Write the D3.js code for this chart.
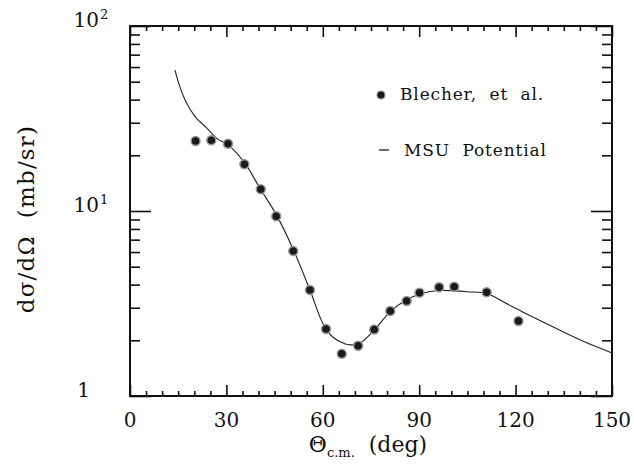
<!DOCTYPE html>
<meta charset="utf-8">
<title>Cross section</title>
<style>
  body { margin: 0; background: #fff; }
  text { font-family: "DejaVu Serif", "Liberation Serif", serif; fill: #111; }
</style>
<body>
<script src="https://cdn.jsdelivr.net/npm/d3@7"></script>
<script>

var width = 634,
    height = 468;

// Blecher, et al. data points (theta c.m. in deg, dsigma/dOmega in mb/sr)
var dataAngles = [20.4, 25.3, 30.5, 35.6, 40.7, 45.5, 50.8, 56.0, 61.0, 65.9,
                  71.0, 76.0, 81.0, 86.1, 90.1, 96.2, 100.9, 111.0, 120.9];
var dataValues = [23.9, 24.1, 23.1, 17.9, 13.1, 9.36, 6.08, 3.74, 2.30, 1.69,
                  1.87, 2.29, 2.88, 3.26, 3.62, 3.87, 3.90, 3.64, 2.54];

// MSU potential curve
var curveAngles = [14, 15.5, 17, 18.7, 20.7, 24, 27, 30.6, 35.8, 40.4, 45.6, 50.8,
                   56, 60, 63, 67, 69, 71, 76, 81, 86, 91, 96, 101, 105, 111,
                   117, 123, 130, 136, 142, 150];
var curveValues = [57.8, 47, 40.3, 35.5, 31.7, 28, 24.7, 22.7, 18.1, 13.3, 9.5, 6.2,
                   3.74, 2.47, 2.09, 1.91, 1.89, 1.9, 2.27, 2.86, 3.3, 3.59, 3.72, 3.7, 3.66, 3.58,
                   3.17, 2.8, 2.44, 2.17, 1.945, 1.71];

var xTicks = [0, 30, 60, 90, 120, 150];
var yTicks = [1, 10, 100];
var yTickBase = ["1", "10", "10"];
var yTickExp = ["", "1", "2"];

var legendLabels = ["Blecher,  et  al.", "MSU  Potential"];

var x = d3.scaleLinear().domain([0, 150]).range([130, 612]);
var y = d3.scaleLog().domain([1, 100]).range([396, 26]);

var svg = d3.select("body").append("svg")
  .attr("width", width)
  .attr("height", height);

// minor ticks
var xMinor = d3.range(5, 150, 5).filter(function (d) { return d % 30 !== 0; });
var yMinor = [];
[1, 10].forEach(function (dec) {
  for (var k = 2; k <= 9; k++) yMinor.push(dec * k);
});

function tickAxis(axis, g) {
  g.call(axis);
  g.select(".domain").remove();
  g.selectAll("line").attr("stroke", "#111").attr("stroke-width", 1.6);
  g.selectAll("text").remove();
}

// bottom (ticks inward = up)
tickAxis(d3.axisTop(x).tickValues(xTicks).tickSize(11), svg.append("g").attr("transform", "translate(0,396)"));
tickAxis(d3.axisTop(x).tickValues(xMinor).tickSize(5), svg.append("g").attr("transform", "translate(0,396)"));
// top (ticks inward = down)
tickAxis(d3.axisBottom(x).tickValues(xTicks).tickSize(11), svg.append("g").attr("transform", "translate(0,26)"));
tickAxis(d3.axisBottom(x).tickValues(xMinor).tickSize(5), svg.append("g").attr("transform", "translate(0,26)"));
// left (ticks inward = right)
tickAxis(d3.axisRight(y).tickValues(yTicks).tickSize(21), svg.append("g").attr("transform", "translate(130,0)"));
tickAxis(d3.axisRight(y).tickValues(yMinor).tickSize(10), svg.append("g").attr("transform", "translate(130,0)"));
// right (ticks inward = left)
tickAxis(d3.axisLeft(y).tickValues(yTicks).tickSize(21), svg.append("g").attr("transform", "translate(612,0)"));
tickAxis(d3.axisLeft(y).tickValues(yMinor).tickSize(10), svg.append("g").attr("transform", "translate(612,0)"));

// frame
svg.append("rect")
  .attr("x", x(0)).attr("y", y(100))
  .attr("width", x(150) - x(0)).attr("height", y(1) - y(100))
  .attr("fill", "none")
  .attr("stroke", "#111")
  .attr("stroke-width", 2);

// x tick labels
svg.selectAll("text.xlab")
  .data(xTicks)
  .enter().append("text")
  .attr("class", "xlab")
  .attr("x", function (d) { return x(d); })
  .attr("y", 427)
  .attr("text-anchor", "middle")
  .style("font-size", "20px")
  .text(function (d) { return d; });

// y tick labels
svg.selectAll("text.ylab")
  .data(yTicks)
  .enter().append("text")
  .attr("class", "ylab")
  .attr("x", function (d, i) { return i === 0 ? 90 : 99; })
  .attr("y", function (d) { return y(d) + 1; })
  .attr("text-anchor", "end")
  .style("font-size", "20px")
  .text(function (d, i) { return yTickBase[i]; });

svg.selectAll("text.yexp")
  .data(yTicks.filter(function (d, i) { return yTickExp[i]; }))
  .enter().append("text")
  .attr("class", "yexp")
  .attr("x", 100)
  .attr("y", function (d) { return y(d) - 7; })
  .style("font-size", "13px")
  .text(function (d) { return yTickExp[yTicks.indexOf(d)]; });

// curve
var line = d3.line()
  .x(function (d) { return x(d[0]); })
  .y(function (d) { return y(d[1]); })
  .curve(d3.curveCatmullRom);

svg.append("path")
  .datum(d3.zip(curveAngles, curveValues))
  .attr("d", line)
  .attr("fill", "none")
  .attr("stroke", "#222")
  .attr("stroke-width", 1.1);

// data points
svg.selectAll("circle.pt")
  .data(d3.zip(dataAngles, dataValues))
  .enter().append("circle")
  .attr("class", "pt")
  .attr("cx", function (d) { return x(d[0]); })
  .attr("cy", function (d) { return y(d[1]); })
  .attr("r", 4.5)
  .attr("fill", "#1a1a1a")
  .attr("stroke", "#999")
  .attr("stroke-width", 1.5);

// legend
svg.append("circle")
  .attr("cx", 381).attr("cy", 95).attr("r", 4)
  .attr("fill", "#1a1a1a").attr("stroke", "#999").attr("stroke-width", 1.2);
svg.append("line")
  .attr("x1", 379).attr("x2", 389).attr("y1", 150).attr("y2", 150)
  .attr("stroke", "#222").attr("stroke-width", 1.3);

svg.selectAll("text.leg")
  .data(legendLabels)
  .enter().append("text")
  .attr("class", "leg")
  .attr("x", function (d, i) { return i === 0 ? 400 : 404; })
  .attr("y", function (d, i) { return i === 0 ? 100 : 156; })
  .style("font-size", "17px")
  .style("letter-spacing", "0.85px")
  .style("white-space", "pre")
  .text(function (d) { return d; });

// axis titles
var xt = svg.append("text")
  .attr("x", 368)
  .attr("y", 452)
  .attr("text-anchor", "middle")
  .style("font-size", "22px")
  .style("white-space", "pre");
xt.append("tspan").text("\u0398");
xt.append("tspan").attr("dy", 5).style("font-size", "13px").text("c.m.");
xt.append("tspan").attr("dy", -5).text("  (deg)");

svg.append("text")
  .attr("transform", "translate(34,219) rotate(-90)")
  .attr("text-anchor", "middle")
  .style("font-size", "23px")
  .style("letter-spacing", "1.2px")
  .style("white-space", "pre")
  .text("d\u03c3/d\u03a9  (mb/sr)");

</script>
</body>
</html>
